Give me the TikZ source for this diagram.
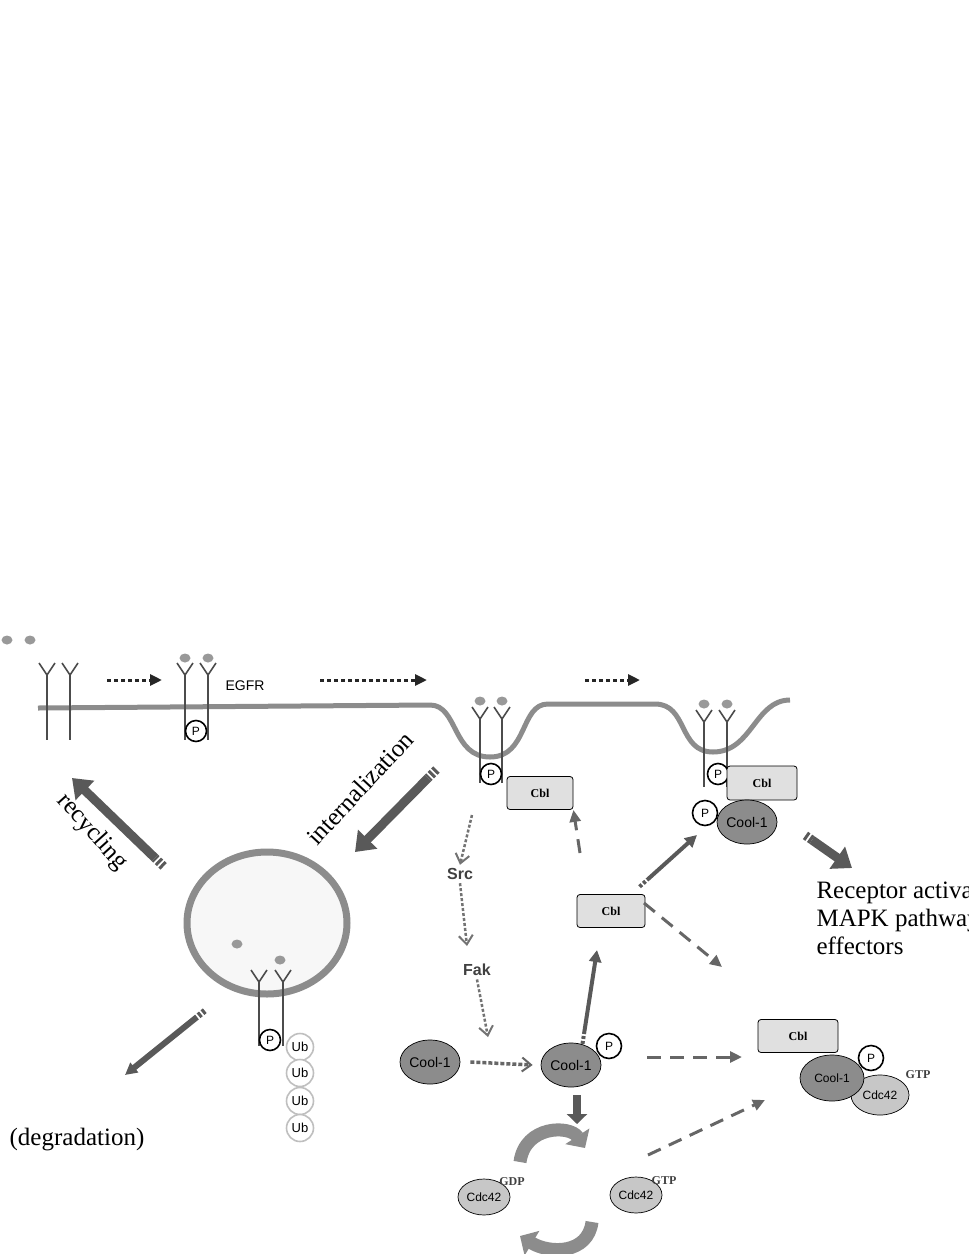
\documentclass[tikz,border=0pt]{standalone}
\usepackage{fontspec}
\setmainfont{Liberation Serif}
\setsansfont{Liberation Sans}
\usetikzlibrary{positioning,shapes.geometric,arrows.meta,calc}

\tikzset{
  memb/.style={line width=5pt,black!45},
  rline/.style={line width=1.6pt,black!70},
  lig/.style={ellipse,fill=black!40,minimum width=11pt,minimum height=9pt,inner sep=0pt},
  phos/.style={circle,draw=black,line width=1.6pt,fill=white,minimum size=21pt,inner sep=0pt,font=\sffamily\fontsize{12}{12}\selectfont},
  ub/.style={circle,draw=black!25,line width=1.6pt,fill=white,minimum size=27pt,inner sep=0pt,font=\sffamily\fontsize{13}{13}\selectfont},
  cblbox/.style={draw=black,line width=0.8pt,rounded corners=3pt,fill=black!12,minimum width=66pt,minimum height=33pt,font=\bfseries\fontsize{12}{12}\selectfont},
  cool/.style={ellipse,draw=black,line width=0.7pt,fill=black!45,minimum width=60pt,minimum height=44pt,inner sep=0pt,font=\sffamily\fontsize{14}{14}\selectfont},
  cdc/.style={ellipse,draw=black,line width=0.7pt,fill=black!22,minimum width=52pt,minimum height=36pt,inner sep=0pt,font=\sffamily\fontsize{12}{12}\selectfont},
  nuc/.style={font=\bfseries\fontsize{12}{12}\selectfont,black!75},
  blackdot/.style={line width=3pt,black!85,dash pattern=on 4pt off 3pt,-{Triangle[length=12pt,width=11pt]}},
  graydot/.style={line width=2.5pt,black!55,dash pattern=on 3pt off 2pt,-{Straight Barb[length=9pt,width=14pt,line width=2pt]}},
  graydash/.style={line width=3pt,black!60,dash pattern=on 14pt off 9pt,-{Triangle[length=12pt,width=11pt]}},
  bigarrow/.style={line width=9pt,black!65,-{Triangle[length=18pt,width=26pt]}},
  thinarrow/.style={line width=4pt,black!65,-{Triangle[length=12pt,width=12pt]}},
  tailstripe/.style={line width=9pt,black!65,dash pattern=on 3pt off 2pt},
  cyclearrow/.style={line width=13pt,black!45,-{Triangle[length=14pt,width=28pt]}},
  label/.style={font=\fontsize{25}{28}\selectfont}
}
\newcommand{\rcpt}[3]{%
  \draw[rline] (#1,#2+12) -- (#1,#3);
  \draw[rline] (#1-8,#2) -- (#1,#2+12) -- (#1+8,#2);}

\begin{document}
\begin{tikzpicture}[x=1pt,y=-1pt]
\useasboundingbox (0,0) rectangle (969,1254);
\clip (0,0) rectangle (969,1254);

% membrane
\draw[memb] (38,708) -- (430,705) .. controls (458,705) and (452,757) .. (490,757)
  .. controls (528,757) and (520,704) .. (548,704) -- (655,704)
  .. controls (688,704) and (678,752) .. (713,752) .. controls (752,752) and (755,700) .. (790,700);

% free receptors and ligands
\node[lig] (l1) at (7,640) {};
\node[lig] (l2) at (30,640) {};
\rcpt{47}{663}{740}
\rcpt{70}{663}{740}
\rcpt{185}{663}{740}
\rcpt{208}{663}{740}
\node[lig] (l3) at (185,658) {};
\node[lig] (l4) at (208,658) {};
\node[phos] (p1) at (196,731) {P};
\node[font=\sffamily\fontsize{14}{14}\selectfont] (egfr) at (245,686) {EGFR};

\coordinate (d1a) at (107,680); \coordinate (d1b) at (162,680);
\coordinate (d2a) at (320,680); \coordinate (d2b) at (427,680);
\coordinate (d3a) at (585,680); \coordinate (d3b) at (640,680);
\draw[blackdot] (d1a) -- (d1b);
\draw[blackdot] (d2a) -- (d2b);
\draw[blackdot] (d3a) -- (d3b);

% first pit
\rcpt{480}{707}{783}
\rcpt{502}{707}{783}
\node[lig] (l5) at (480,701) {};
\node[lig] (l6) at (502,701) {};
\node[phos] (p2) at (491,774) {P};
\node[cblbox] (cbl1) at (540,793) {Cbl};

% second pit
\rcpt{704}{710}{787}
\rcpt{727}{710}{787}
\node[lig] (l7) at (704,704) {};
\node[lig] (l8) at (727,704) {};
\node[phos] (p3) at (718,774) {P};
\node[cblbox,minimum width=70pt,minimum height=34pt] (cbl2) at (762,783) {Cbl};
\node[cool] (cool2) at (747,822) {Cool-1};
\node[phos,minimum size=25pt] (p4) at (705,813) {P};

\coordinate (ra) at (812,840); \coordinate (rb) at (852,868);
\draw[bigarrow] (ra) -- (rb);
\draw[tailstripe] ($(ra)!-8pt!(rb)$) -- (ra);
\node[label,anchor=west,align=left] (recep) at (813,918) {Receptor activation\\MAPK pathway\\effectors};

% vesicle
\draw[line width=7pt,black!45,fill=black!3] (267,923) ellipse [x radius=80pt,y radius=71pt];
\node[lig] (l9) at (237,944) {};
\node[lig] (l10) at (280,960) {};
\rcpt{259}{970}{1046}
\rcpt{283}{970}{1046}
\node[phos] (p5) at (270,1040) {P};
\foreach \i/\y in {1/1047,2/1073,3/1101,4/1128}
  \node[ub] (ub\i) at (300,\y) {Ub};

% recycling, internalization, degradation
\coordinate (ca) at (155,858); \coordinate (cb) at (72,778);
\draw[bigarrow] (ca) -- (cb);
\draw[tailstripe] ($(ca)!-12pt!(cb)$) -- (ca);
\node[label,rotate=-48] (recyc) at (92,832) {recycling};
\coordinate (ia) at (428,778); \coordinate (ib) at (355,852);
\draw[bigarrow] (ia) -- (ib);
\draw[tailstripe] ($(ia)!-12pt!(ib)$) -- (ia);
\node[label,rotate=47] (intern) at (360,788) {internalization};
\coordinate (ga) at (197,1017); \coordinate (gb) at (125,1075);
\draw[thinarrow,line width=6pt] (ga) -- (gb);
\draw[tailstripe,line width=6pt] ($(ga)!-10pt!(gb)$) -- (ga);
\node[label] (degr) at (77,1140) {(degradation)};

% Src / Fak cascade
\node[nuc,font=\sffamily\bfseries\fontsize{16}{16}\selectfont] (src) at (460,874) {Src};
\node[nuc,font=\sffamily\bfseries\fontsize{16}{16}\selectfont] (fak) at (477,970) {Fak};
\coordinate (s0) at (472,815);
\coordinate (s1) at (467,946);
\coordinate (f1) at (488,1037);
\draw[graydot] (s0) -- (src.north);
\draw[graydot] (src.south) -- (s1);
\draw[graydot] (fak.south) -- (f1);

% Cool-1 and Cbl
\node[cool] (cool0) at (430,1062) {Cool-1};
\node[cool] (cool1) at (571,1065) {Cool-1};
\node[phos,minimum size=25pt] (p6) at (609,1046) {P};
\draw[graydot,line width=3.5pt,black!60,dash pattern=on 4pt off 2pt] ([xshift=10pt]cool0.east) -- ([xshift=-8pt]cool1.west);
\node[cblbox,minimum width=68pt] (cbl3) at (611,911) {Cbl};
\coordinate (ua) at (584,1034); \coordinate (ub) at (597,950);
\draw[thinarrow] (ua) -- (ub);
\draw[tailstripe,line width=4pt] ($(ua)!-10pt!(ub)$) -- (ua);
\coordinate (va) at (647,880); \coordinate (vb) at (697,835);
\draw[thinarrow] (va) -- (vb);
\draw[tailstripe,line width=4pt] ($(va)!-10pt!(vb)$) -- (va);
\coordinate (cb1) at (580,853);
\draw[graydash] (cb1) -- (cbl1.south east);
\coordinate (cb2) at (628,913);
\coordinate (cb3) at (722,967);
\draw[graydash] ([xshift=16pt,yshift=10pt]cb2) -- (cb3);

% right complex
\node[cblbox,minimum width=80pt,minimum height=33pt] (cbl4) at (798,1036) {Cbl};
\node[cdc,minimum width=58pt,minimum height=40pt] (cdc3) at (880,1095) {Cdc42};
\node[cool,minimum width=64pt,minimum height=46pt,font=\sffamily\fontsize{12}{12}\selectfont] (cool3) at (832,1078) {Cool-1};
\node[phos,minimum size=25pt] (p7) at (871,1058) {P};
\node[nuc] (gtp3) at (918,1075) {GTP};
\coordinate (ha) at (647,1057); \coordinate (hb) at (742,1057);
\draw[graydash] (ha) -- (hb);

% Cdc42 cycle
\coordinate (da) at (577,1095); \coordinate (db) at (577,1124);
\draw[line width=8pt,black!65,-{Triangle[length=10pt,width=20pt]}] (da) -- (db);
\node[cdc] (cdc1) at (484,1197) {Cdc42};
\node[nuc] (gdp) at (512,1182) {GDP};
\node[cdc] (cdc2) at (636,1195) {Cdc42};
\node[nuc] (gtp2) at (664,1181) {GTP};
\draw[cyclearrow] (520,1162) .. controls (525,1125) and (570,1125) .. (585,1148);
\draw[cyclearrow] (592,1222) .. controls (588,1254) and (550,1254) .. (520,1236);
\coordinate (ea) at (648,1155); \coordinate (eb) at (765,1100);
\draw[graydash] (ea) -- (eb);
\end{tikzpicture}
\end{document}
